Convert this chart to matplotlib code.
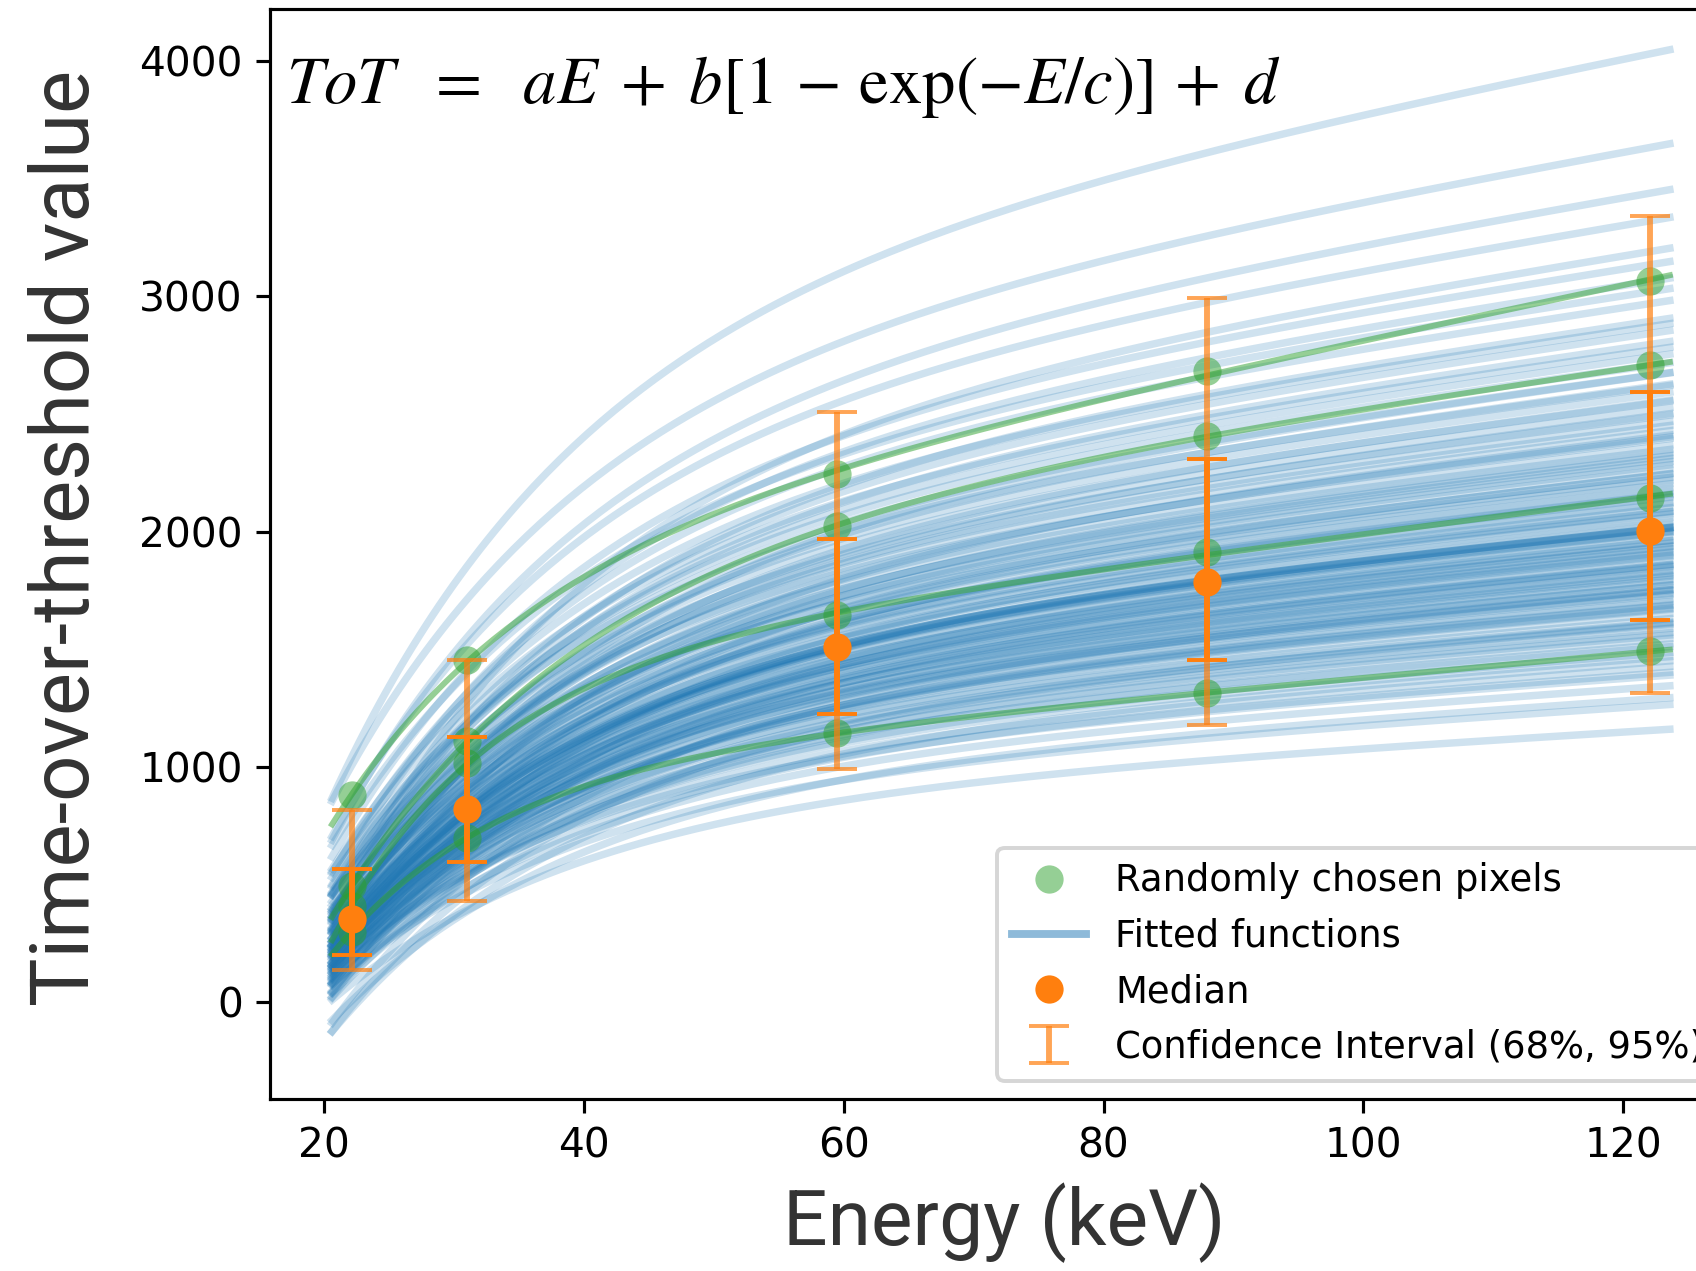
import numpy as np
import matplotlib
matplotlib.use('Agg')
import matplotlib.pyplot as plt
from matplotlib.lines import Line2D

# calibration lines (keV) and pixel-population statistics
energy = np.array([22.1, 31.0, 59.5, 88.0, 122.1])
median = np.array([354, 820, 1510, 1787, 2003])
ci68_lo = np.array([201, 595, 1224, 1455, 1623])
ci68_hi = np.array([567, 1129, 1970, 2310, 2595])
ci95_lo = np.array([136, 429, 993, 1178, 1316])
ci95_hi = np.array([818, 1455, 2510, 2993, 3343])

# four randomly chosen pixels: measured ToT and fitted a, b, c, d
pix_tot = [[879, 1453, 2246, 2682, 3066],
           [493, 1108, 2025, 2407, 2708],
           [410, 1015, 1645, 1915, 2144],
           [300, 699, 1143, 1316, 1491]]
pix_a = [11.640, 7.895, 7.195, 5.036]
pix_b = [4509.5, 4670.6, 6530.0, 4145.3]
pix_c = [14.95, 18.70, 11.90, 12.30]
pix_d = [-2856.8, -2918.8, -5258.6, -3269.1]

# fit through the median
med_fit = (5.46, 3606, 19.0, -2258)

# other pixels: gain and threshold shift (keV) relative to the median fit
gain = [0.58, 0.63, 0.65, 0.67, 0.69, 0.70, 0.71, 0.73, 0.73, 0.74, 0.75, 0.76,
        0.77, 0.78, 0.78, 0.79, 0.80, 0.80, 0.81, 0.81, 0.82, 0.83, 0.83, 0.84,
        0.84, 0.85, 0.85, 0.86, 0.86, 0.87, 0.87, 0.88, 0.88, 0.88, 0.89, 0.89,
        0.90, 0.90, 0.91, 0.91, 0.92, 0.92, 0.92, 0.93, 0.93, 0.94, 0.94, 0.95,
        0.95, 0.96, 0.96, 0.96, 0.97, 0.97, 0.98, 0.98, 0.99, 0.99, 0.99, 1.00,
        1.00, 1.01, 1.01, 1.02, 1.03, 1.03, 1.04, 1.04, 1.05, 1.05, 1.06, 1.07,
        1.07, 1.08, 1.08, 1.09, 1.10, 1.10, 1.11, 1.12, 1.12, 1.13, 1.14, 1.14,
        1.15, 1.16, 1.16, 1.17, 1.18, 1.19, 1.20, 1.20, 1.21, 1.22, 1.23, 1.24,
        1.25, 1.26, 1.27, 1.28, 1.29, 1.30, 1.32, 1.33, 1.34, 1.36, 1.37, 1.39,
        1.41, 1.42, 1.44, 1.47, 1.49, 1.52, 1.55, 1.59, 1.64, 1.70, 1.79, 1.99]
shift = [3.0, 1.6, 4.6, 1.8, 0.5, 2.5, 1.3, 5.2, 1.0, 1.5, 0.5, 2.5,
         1.7, 0.6, 2.9, 1.0, -0.2, 1.9, 0.8, 5.0, 0.5, 1.0, 0.1, 2.0,
         1.3, 0.2, 2.5, 0.6, -0.5, 1.5, 0.4, 4.4, 0.2, 0.7, -0.3, 1.7,
         1.0, -0.1, 2.2, 0.4, -0.8, 1.2, 0.1, 2.9, -0.1, 0.4, -0.5, 1.5,
         0.7, -0.4, 1.9, 0.1, -1.1, 1.0, -0.1, 2.7, -0.3, 0.2, -0.8, 1.2,
         0.3, -0.8, 1.5, -0.4, -1.5, 0.5, -0.6, 2.2, -0.8, -0.3, -1.3, 0.7,
         0.0, -1.1, 1.2, -0.7, -1.8, 0.2, -0.9, 1.9, -1.1, -0.6, -1.6, 0.4,
         -0.4, -1.4, 0.8, -1.0, -2.2, -0.2, -1.2, 1.5, -1.5, -1.0, -2.0, 0.0,
         -0.7, -1.8, 0.4, -1.4, -2.6, -0.6, -1.7, 1.1, -1.9, -1.4, -2.5, -0.5,
         -1.3, -2.4, -0.2, -2.0, -3.2, -1.3, -2.4, 0.3, -2.9, -2.5, -3.7, -3.0]


def tot(E, a, b, c, d):
    return a*E + b*(1-np.exp(-E/c)) + d


DPI = 1696/6
fig = plt.figure(figsize=(6, 1271/DPI), dpi=DPI)
ax = fig.add_axes([0.1594, 0.1353, 0.865, 0.8576])
Eg = np.linspace(20.6, 123.6, 200)

for g, s in zip(gain, shift):
    ax.plot(Eg, g*tot(Eg-s, *med_fit), color='tab:blue', alpha=0.21, lw=1.9, zorder=1)
ax.plot(Eg, tot(Eg, *med_fit), color='tab:blue', alpha=0.5, lw=2, zorder=2)

for i in range(len(pix_tot)):
    ax.plot(Eg, tot(Eg, pix_a[i], pix_b[i], pix_c[i], pix_d[i]),
            color='tab:green', alpha=0.5, lw=1.5, zorder=3)
    ax.plot(energy, pix_tot[i], 'o', color='tab:green', alpha=0.5, ms=7.2, mew=0, zorder=3)

eb95 = ax.errorbar(energy, median, yerr=[median-ci95_lo, ci95_hi-median], fmt='none',
                   ecolor='tab:orange', alpha=0.7, elinewidth=1.5, capsize=5, capthick=1, zorder=4)
ax.errorbar(energy, median, yerr=[median-ci68_lo, ci68_hi-median], fmt='none',
            ecolor='tab:orange', elinewidth=1.5, capsize=5, capthick=1, zorder=4)
ax.plot(energy, median, 'o', color='tab:orange', ms=7.2, mew=0, zorder=5)

ax.set_xlim(15.85, 128.8)
ax.set_ylim(-412, 4222)
ax.tick_params(labelsize=10.4)
ax.set_xlabel('Energy (keV)', fontsize=20, family='Roboto', color='#333333')
ax.set_ylabel('Time-over-threshold value', fontsize=20.7, family='Roboto', color='#333333',
              labelpad=8.5)
ax.yaxis.label.set_y(0.515)
ax.text(0.011, 0.9138, r'$ToT\ \ =\ \ aE\;+\;b[1\,-\,\exp(-E/c)]\,+\;d$',
        transform=ax.transAxes, fontsize=17, math_fontfamily='stix', va='baseline')

handles = [Line2D([], [], ls='none', marker='o', ms=7.2, mew=0, color='tab:green', alpha=0.5),
           Line2D([], [], color='tab:blue', alpha=0.5, lw=2),
           Line2D([], [], ls='none', marker='o', ms=7.2, mew=0, color='tab:orange'),
           eb95]
ax.legend(handles, ['Randomly chosen pixels', 'Fitted functions', 'Median',
                    'Confidence Interval (68%, 95%)'], loc='lower right', fontsize=9.4)
fig.savefig('out.png', dpi=DPI)
